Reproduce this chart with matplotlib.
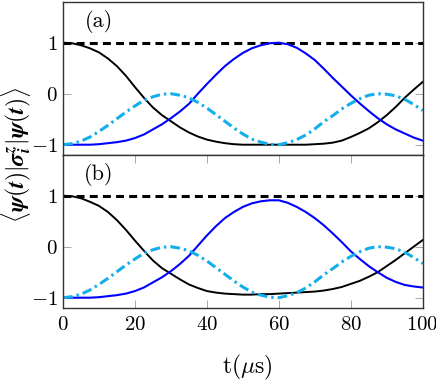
import matplotlib
matplotlib.use("Agg")
import matplotlib.pyplot as plt

plt.rcParams['font.family'] = 'serif'
plt.rcParams['font.serif'] = ['cmr10', 'DejaVu Serif']
plt.rcParams['mathtext.fontset'] = 'cm'
plt.rcParams['axes.formatter.use_mathtext'] = True

# time samples (microseconds), every 2.5
t = [0, 2.5, 5, 7.5, 10, 12.5, 15, 17.5, 20, 22.5, 25, 27.5, 30, 32.5, 35, 37.5, 40,
     42.5, 45, 47.5, 50, 52.5, 55, 57.5, 60, 62.5, 65, 67.5, 70, 72.5, 75, 77.5, 80,
     82.5, 85, 87.5, 90, 92.5, 95, 97.5, 100]

# panel (a)
black_a = [1.00, 0.99, 0.95, 0.89, 0.81, 0.69, 0.54, 0.35, 0.13, -0.08, -0.27, -0.42,
           -0.54, -0.66, -0.76, -0.84, -0.90, -0.94, -0.97, -0.99, -1.00, -1.00, -1.00,
           -1.00, -1.00, -1.00, -1.00, -1.00, -0.99, -0.98, -0.96, -0.92, -0.85, -0.77,
           -0.68, -0.56, -0.42, -0.26, -0.08, 0.08, 0.23]
blue_a = [-1.00, -1.00, -1.00, -1.00, -0.99, -0.97, -0.95, -0.92, -0.87, -0.80, -0.70,
          -0.60, -0.48, -0.35, -0.20, 0.00, 0.19, 0.37, 0.54, 0.68, 0.80, 0.89, 0.95,
          0.99, 1.00, 0.97, 0.90, 0.79, 0.66, 0.49, 0.31, 0.14, -0.03, -0.19, -0.34,
          -0.48, -0.60, -0.70, -0.78, -0.86, -0.92]
cyan_a = [-1.00, -0.98, -0.93, -0.85, -0.74, -0.62, -0.49, -0.36, -0.24, -0.13, -0.06,
          -0.01, 0.00, -0.03, -0.08, -0.17, -0.28, -0.41, -0.54, -0.67, -0.79, -0.89,
          -0.95, -0.99, -1.00, -0.96, -0.90, -0.81, -0.69, -0.55, -0.43, -0.30, -0.19,
          -0.10, -0.03, 0.00, -0.01, -0.04, -0.11, -0.21, -0.33]

# panel (b)
black_b = [1.00, 0.99, 0.95, 0.88, 0.80, 0.68, 0.52, 0.33, 0.12, -0.08, -0.27, -0.42,
           -0.53, -0.64, -0.74, -0.81, -0.87, -0.90, -0.92, -0.93, -0.94, -0.94, -0.93,
           -0.93, -0.92, -0.91, -0.90, -0.89, -0.88, -0.86, -0.83, -0.79, -0.73, -0.67,
           -0.59, -0.50, -0.38, -0.26, -0.13, 0.00, 0.13]
blue_b = [-1.00, -1.00, -1.00, -1.00, -0.99, -0.97, -0.95, -0.92, -0.87, -0.80, -0.70,
          -0.60, -0.48, -0.34, -0.18, 0.02, 0.22, 0.40, 0.56, 0.68, 0.78, 0.85, 0.89,
          0.91, 0.91, 0.86, 0.78, 0.68, 0.56, 0.42, 0.26, 0.09, -0.09, -0.24, -0.38,
          -0.50, -0.61, -0.69, -0.75, -0.78, -0.80]
cyan_b = list(cyan_a)

ref = [1.0] * len(t)

panels = [("(a)", black_a, blue_a, cyan_a), ("(b)", black_b, blue_b, cyan_b)]

fig = plt.figure(figsize=(4.36, 3.82), dpi=100)
gs = fig.add_gridspec(2, 1, left=0.1445, right=0.9695, top=0.995, bottom=0.194, hspace=0)
axes = [fig.add_subplot(gs[0]), fig.add_subplot(gs[1])]

for ax, (tag, blk, blu, cy) in zip(axes, panels):
    ax.plot(t, ref, color='black', lw=2.2, dashes=(2.6, 1.7))
    ax.plot(t, blk, color='black', lw=1.4)
    ax.plot(t, blu, color='#0000ff', lw=1.5)
    ax.plot(t, cy, color='#14aeea', lw=2.2, dashes=(3.2, 1.3, 0.8, 1.3))
    ax.set_xlim(0, 100)
    ax.set_ylim(-1.2, 1.8)
    ax.set_yticks([-1, 0, 1])
    ax.set_xticks([0, 20, 40, 60, 80, 100])
    ax.text(10, 1.42, tag, fontsize=16, ha='center', va='center')
    ax.tick_params(axis='y', direction='in', left=True, right=True, length=6,
                   width=0.6, color='#999999', labelsize=15, pad=4)
    for s in ax.spines.values():
        s.set_color('#333333')
        s.set_linewidth(1.0)

axes[0].tick_params(axis='x', bottom=False, top=False, labelbottom=False)
axes[1].tick_params(axis='x', direction='in', bottom=True, top=True, length=6,
                    width=0.6, color='#999999', labelsize=15, pad=6)

fig.text(0.037, 0.594,
         r'$\langle\boldsymbol{\psi}(\boldsymbol{t})|\boldsymbol{\sigma}_{\boldsymbol{i}}^{\boldsymbol{z}}'
         r'|\boldsymbol{\psi}(\boldsymbol{t})\rangle$',
         fontsize=17, rotation=90, ha='center', va='center')
fig.text(0.5665, 0.037, r't$(\mu$s$)$', fontsize=17, ha='center', va='center')

fig.savefig('out.png', dpi=100)
